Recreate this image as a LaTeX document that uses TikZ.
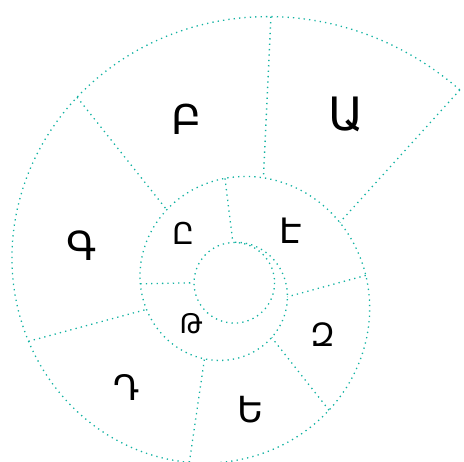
\documentclass[tikz,border=0pt]{standalone}
\usepackage{fontspec}
\usetikzlibrary{calc}
\newfontfamily\armfont{DejaVu Sans}
\definecolor{spiral}{RGB}{18,178,162}
\begin{document}
\begin{tikzpicture}[x=1pt,y=-1pt,
  declare function={
    sr(\t)=220*exp(-0.1411*rad(\t-172));
    sx(\t)=229.8+sr(\t)*cos(\t);
    sy(\t)=288.5-sr(\t)*sin(\t);
  },
  edge/.style={draw=spiral, line width=1.3pt, line cap=butt, dash pattern=on 1.3pt off 4.1pt},
  lbl/.style={inner sep=0pt, font=\armfont}
]
\useasboundingbox (0,0) rectangle (464,462);
% spiral outline
\draw[edge] plot[domain=40.8:806, samples=400, variable=\t, smooth] ({sx(\t)},{sy(\t)});
% inner circle
\coordinate (c) at (234.3,282.8);
\draw[edge] (c) circle[radius=40.3];
% divider end points on the spiral
\foreach \n/\a in {o1/40.8, i1/391, o2/81.4, i2/433.1, o3/128.6, i3/488.7,
                   o4/194.7, i4/554.1, o5/256.9, i5/610.2, o6/309.2, i6/670.5,
                   o7/365.5, i7/711.8, o8/452.5, o9/537}
  \coordinate (\n) at ({sx(\a)},{sy(\a)});
\coordinate (i8) at ($(c)+(-92:40.3)$);
\coordinate (i9) at ($(c)+(180:40.3)$);
% dividers
\foreach \k in {1,...,9}
  \draw[edge] (o\k) -- (i\k);
% labels
\node[lbl, font=\armfont\fontsize{46}{46}\selectfont] (a) at (346.5,114) {Ա};
\node[lbl, font=\armfont\fontsize{41}{41}\selectfont] (b) at (186.7,119) {Բ};
\node[lbl, font=\armfont\fontsize{40}{40}\selectfont] (g) at (81.3,246) {Գ};
\node[lbl, font=\armfont\fontsize{35}{35}\selectfont] (d) at (126.7,387) {Դ};
\node[lbl, font=\armfont\fontsize{36}{36}\selectfont] (e) at (251,409.5) {Ե};
\node[lbl, font=\armfont\fontsize{32}{32}\selectfont] (z) at (323,334.5) {Զ};
\node[lbl, font=\armfont\fontsize{35}{35}\selectfont] (ee) at (291,231) {Է};
\node[lbl, font=\armfont\fontsize{30}{30}\selectfont] (y) at (183,233) {Ը};
\node[lbl, font=\armfont\fontsize{27}{27}\selectfont] (t) at (191.3,324) {Թ};
\end{tikzpicture}
\end{document}
